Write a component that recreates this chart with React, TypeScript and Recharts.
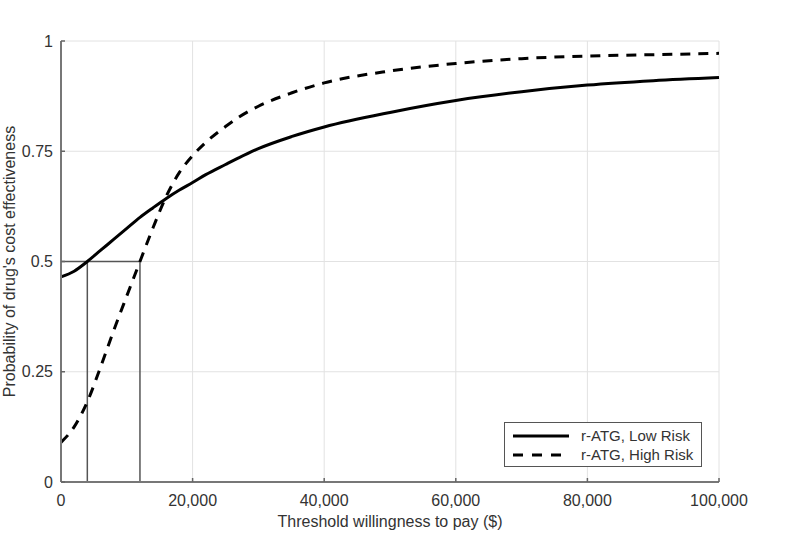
import React from "react";
import { LineChart, Line, XAxis, YAxis, CartesianGrid, ReferenceLine, Legend } from "recharts";

const thresholds = [0, 2000, 4000, 6000, 8000, 10000, 12000, 14000, 16000, 18000, 20000, 22000, 25000, 27000, 30000, 35000, 40000, 50000, 60000, 70000, 80000, 90000, 100000];
const lowRisk = [0.465, 0.478, 0.5, 0.525, 0.55, 0.575, 0.6, 0.622, 0.643, 0.662, 0.679, 0.697, 0.72, 0.735, 0.756, 0.783, 0.805, 0.838, 0.865, 0.885, 0.9, 0.91, 0.917];
const highRisk = [0.09, 0.125, 0.182, 0.26, 0.343, 0.422, 0.5, 0.577, 0.648, 0.702, 0.74, 0.77, 0.806, 0.827, 0.852, 0.882, 0.905, 0.932, 0.949, 0.96, 0.966, 0.969, 0.972];
const xTicks = [0, 20000, 40000, 60000, 80000, 100000];
const yTicks = [0, 0.25, 0.5, 0.75, 1];
const crossLow = 4000;
const crossHigh = 12000;
const halfProb = 0.5;
const seriesNames = ["r-ATG, Low Risk", "r-ATG, High Risk"];

const data = thresholds.map((x, i) => ({ x, low: lowRisk[i], high: highRisk[i] }));

const FONT = '"Liberation Sans", Arial, Helvetica, sans-serif';

const renderLegend = () => (
  <div
    style={{
      border: "1.5px solid #555",
      background: "#fff",
      boxSizing: "border-box",
      width: 198,
      height: 45,
      padding: "3px 0 0 8px",
      fontFamily: FONT,
      fontSize: 15,
      color: "#333",
      lineHeight: "19px",
    }}
  >
    {seriesNames.map((n, i) => (
      <div key={n} style={{ display: "flex", alignItems: "center", height: 19 }}>
        <svg width={56} height={8} style={{ marginRight: 12 }}>
          <line x1={0} y1={4} x2={56} y2={4} stroke="#000" strokeWidth={3} strokeDasharray={i === 1 ? "10 9" : undefined} />
        </svg>
        <span>{n}</span>
      </div>
    ))}
  </div>
);

const YLabel = (props: any) => {
  const vb = props.viewBox || {};
  const cx = 9.5;
  const cy = (vb.y ?? 0) + (vb.height ?? 0) / 2;
  return (
    <text
      x={cx}
      y={cy}
      transform={`rotate(-90 ${cx} ${cy})`}
      textAnchor="middle"
      dominantBaseline="central"
      fontFamily={FONT}
      fontSize={16}
      fill="#333"
    >
      Probability of drug's cost effectiveness
    </text>
  );
};

export default function App() {
  return (
    <div style={{ position: "absolute", left: 0, top: 0, background: "#fff" }}>
      <LineChart width={800} height={544} data={data} margin={{ top: 41, right: 81, left: 0, bottom: 22 }}>
        <CartesianGrid stroke="#e2e2e2" strokeWidth={1} />
        <XAxis
          dataKey="x"
          type="number"
          domain={[0, 100000]}
          ticks={xTicks}
          tickFormatter={(v: number) => v.toLocaleString("en-US")}
          tick={{ fill: "#333", fontSize: 16, fontFamily: FONT }}
          tickLine={{ stroke: "#666", strokeWidth: 1.5 }}
          tickSize={-4}
          tickMargin={17}
          axisLine={{ stroke: "#777", strokeWidth: 2 }}
          height={40}
          label={{ value: "Threshold willingness to pay ($)", position: "insideBottom", offset: -5, fill: "#333", fontSize: 16, fontFamily: FONT }}
        />
        <YAxis
          type="number"
          domain={[0, 1]}
          ticks={yTicks}
          tick={{ fill: "#333", fontSize: 16, fontFamily: FONT }}
          tickLine={{ stroke: "#666", strokeWidth: 1.5 }}
          tickSize={-4}
          tickMargin={12}
          axisLine={{ stroke: "#777", strokeWidth: 2 }}
          width={61}
          label={<YLabel />}
        />
        <ReferenceLine segment={[{ x: 0, y: halfProb }, { x: crossHigh, y: halfProb }]} stroke="#555" strokeWidth={1.5} />
        <ReferenceLine segment={[{ x: crossLow, y: 0 }, { x: crossLow, y: halfProb }]} stroke="#555" strokeWidth={1.5} />
        <ReferenceLine segment={[{ x: crossHigh, y: 0 }, { x: crossHigh, y: halfProb }]} stroke="#555" strokeWidth={1.5} />
        <Line type="monotone" dataKey="low" name={seriesNames[0]} stroke="#000" strokeWidth={3} dot={false} isAnimationActive={false} />
        <Line type="monotone" dataKey="high" name={seriesNames[1]} stroke="#000" strokeWidth={3} strokeDasharray="10 8" dot={false} isAnimationActive={false} />
        <Legend
          layout="horizontal"
          verticalAlign="middle"
          align="center"
          content={renderLegend}
          wrapperStyle={{ position: "absolute", left: 504, top: 422, width: 198, height: 45 }}
        />
      </LineChart>
    </div>
  );
}
